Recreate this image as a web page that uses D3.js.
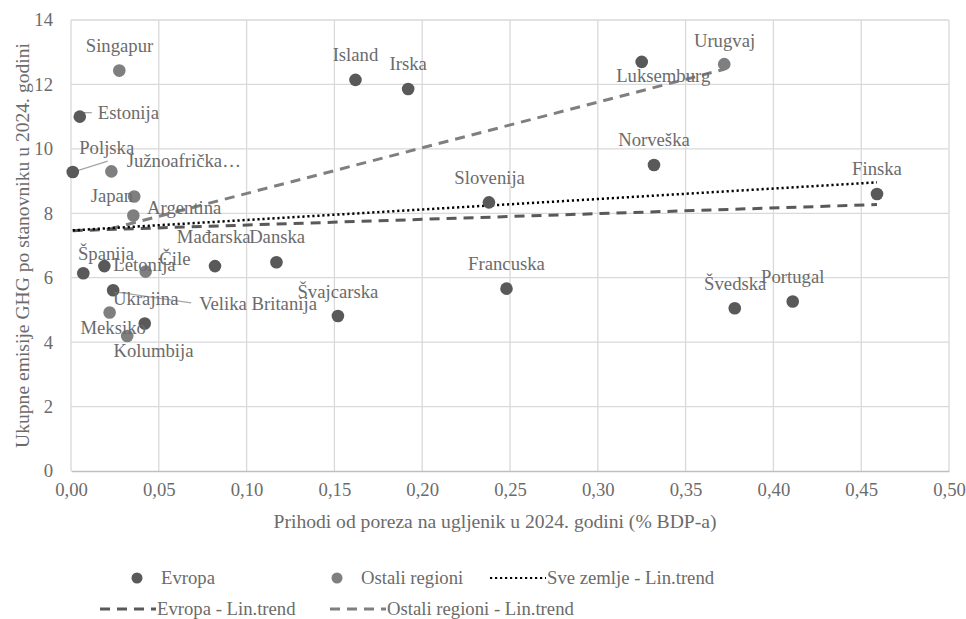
<!DOCTYPE html>
<html><head><meta charset="utf-8">
<script src="https://cdn.jsdelivr.net/npm/d3@7"></script>
<style>body{margin:0;background:#fff;}</style></head>
<body><svg id="c" width="966" height="619"></svg>
<script>
// ---- data ----
const europeNames = ["Estonija","Poljska","Island","Irska","Luksemburg","Norveška","Slovenija","Francuska","Švajcarska","Finska","Švedska","Portugal","Mađarska","Danska","Španija","Letonija","Velika Britanija","Ukrajina"];
const europeX = [0.005,0.001,0.162,0.192,0.325,0.332,0.238,0.248,0.152,0.459,0.378,0.411,0.082,0.117,0.007,0.019,0.024,0.042];
const europeY = [11.00,9.28,12.14,11.86,12.70,9.50,8.34,5.66,4.81,8.60,5.05,5.26,6.36,6.48,6.14,6.36,5.61,4.58];

const otherNames = ["Singapur","Južnoafrička…","Japan","Argentina","Urugvaj","Čile","Meksiko","Kolumbija"];
const otherX = [0.0275,0.023,0.036,0.0355,0.372,0.0425,0.022,0.032];
const otherY = [12.43,9.30,8.52,7.93,12.63,6.19,4.92,4.19];

// trend lines (endpoints)
const trendAll = [[0.001,7.47],[0.459,8.96]];
const trendEurope = [[0.001,7.46],[0.459,8.27]];
const trendOther = [[0.022,7.51],[0.372,12.47]];

const xTicks = [0,0.05,0.10,0.15,0.20,0.25,0.30,0.35,0.40,0.45,0.50];
const yTicks = [0,2,4,6,8,10,12,14];

const xTitle = "Prihodi od poreza na ugljenik u 2024. godini (% BDP-a)";
const yTitle = "Ukupne emisije GHG po stanovniku u 2024. godini";

// ---- label layout (pixel offsets from point) ----
const labelLayout = {
 "Estonija":{dx:18,dy:2.5,a:"start",lead:[[1,-4],[12,-4]]},
 "Poljska":{dx:34,dy:-18,a:"middle",lead:[[0,0],[35,-11]]},
 "Island":{dx:0,dy:-18.5,a:"middle"},
 "Irska":{dx:0,dy:-18.5,a:"middle"},
 "Luksemburg":{dx:21.5,dy:19.7,a:"middle"},
 "Norveška":{dx:0,dy:-18.5,a:"middle"},
 "Slovenija":{dx:0.7,dy:-18.5,a:"middle"},
 "Francuska":{dx:0,dy:-18.5,a:"middle"},
 "Švajcarska":{dx:0,dy:-18.5,a:"middle"},
 "Finska":{dx:0,dy:-18.5,a:"middle"},
 "Švedska":{dx:0.5,dy:-18.5,a:"middle"},
 "Portugal":{dx:0,dy:-19,a:"middle"},
 "Mađarska":{dx:-1.3,dy:-23,a:"middle"},
 "Danska":{dx:0.7,dy:-19.3,a:"middle"},
 "Španija":{dx:22.7,dy:-13.3,a:"middle"},
 "Letonija":{dx:9,dy:4.7,a:"start"},
 "Velika Britanija":{dx:86,dy:19.7,a:"start",lead:[[2,1.5],[78,12.5]]},
 "Ukrajina":{dx:1,dy:-18.3,a:"middle"},
 "Singapur":{dx:0.2,dy:-18.7,a:"middle"},
 "Južnoafrička…":{dx:15.3,dy:-4.3,a:"start"},
 "Japan":{dx:-22.3,dy:5.3,a:"middle"},
 "Argentina":{dx:13.7,dy:-1.7,a:"start"},
 "Urugvaj":{dx:0.3,dy:-17.6,a:"middle"},
 "Čile":{dx:29.3,dy:-6.7,a:"middle"},
 "Meksiko":{dx:3.5,dy:21.3,a:"middle"},
 "Kolumbija":{dx:26.3,dy:20.7,a:"middle"}
};

const FONT = '"Liberation Serif", serif';
const cEurope="#595959", cOther="#7f7f7f", cText="#6b6b6b", cGrid="#d9d9d9";
const fs = 18.7, fsT = 19.6;

const svg = d3.select("#c");
const x = d3.scaleLinear().domain([0,0.5]).range([71,949]);
const y = d3.scaleLinear().domain([0,14]).range([471,20]);

// grid
svg.append("g").selectAll("line").data(xTicks.slice(1)).join("line")
 .attr("x1",d=>x(d)).attr("x2",d=>x(d)).attr("y1",y(0)).attr("y2",y(14))
 .attr("stroke",cGrid).attr("stroke-width",1.3);
svg.append("g").selectAll("line").data(yTicks.slice(1)).join("line")
 .attr("x1",x(0)).attr("x2",x(0.5)).attr("y1",d=>y(d)).attr("y2",d=>y(d))
 .attr("stroke",cGrid).attr("stroke-width",1.3);
svg.append("line").attr("x1",x(0)).attr("x2",x(0)).attr("y1",y(0)).attr("y2",y(14)).attr("stroke",cGrid).attr("stroke-width",1.3);

// axes via d3
const fmt = d3.formatLocale({decimal:",",thousands:".",grouping:[3],currency:["","€"]}).format(".2f");
const xAxis = svg.append("g").attr("transform",`translate(0,${y(0)})`)
 .call(d3.axisBottom(x).tickValues(xTicks).tickFormat(fmt).tickSize(0).tickPadding(12));
xAxis.attr("font-family",null);
xAxis.select(".domain").attr("stroke","#bfbfbf").attr("stroke-width",1.3);
xAxis.selectAll("text").attr("font-size",fs).attr("fill",cText).style("font-family",FONT);
const yAxis = svg.append("g").attr("transform",`translate(${x(0)},0)`)
 .call(d3.axisLeft(y).tickValues(yTicks).tickFormat(d3.format("d")).tickSize(0).tickPadding(18));
yAxis.attr("font-family",null);
yAxis.select(".domain").remove();
yAxis.selectAll("text").attr("font-size",fs).attr("fill",cText).style("font-family",FONT);

// titles
svg.append("text").attr("x",495).attr("y",528).attr("text-anchor","middle").style("font-family",FONT)
 .attr("font-size",fsT).attr("fill",cText).text(xTitle);
svg.append("text").attr("transform",`translate(29,${(y(0)+y(14))/2}) rotate(-90)`).attr("text-anchor","middle").style("font-family",FONT)
 .attr("font-size",fsT).attr("fill",cText).text(yTitle);

// trend lines
const line = d3.line().x(d=>x(d[0])).y(d=>y(d[1]));
svg.append("path").attr("d",line(trendOther)).attr("fill","none").attr("stroke",cOther).attr("stroke-width",3).attr("stroke-dasharray","10,7");
svg.append("path").attr("d",line(trendEurope)).attr("fill","none").attr("stroke",cEurope).attr("stroke-width",3).attr("stroke-dasharray","10,7");
svg.append("path").attr("d",line(trendAll)).attr("fill","none").attr("stroke","#000").attr("stroke-width",2.5).attr("stroke-dasharray","2.2,2.8");

// points
const eu = europeNames.map((n,i)=>({n,x:europeX[i],y:europeY[i],c:cEurope}));
const ot = otherNames.map((n,i)=>({n,x:otherX[i],y:otherY[i],c:cOther}));
const all = eu.concat(ot);

all.forEach(d=>{
  const L = labelLayout[d.n];
  if(L && L.lead){
    svg.append("line").attr("x1",x(d.x)+L.lead[0][0]).attr("y1",y(d.y)+L.lead[0][1])
      .attr("x2",x(d.x)+L.lead[1][0]).attr("y2",y(d.y)+L.lead[1][1])
      .attr("stroke","#a6a6a6").attr("stroke-width",1.3);
  }
});

svg.append("g").selectAll("circle").data(all).join("circle")
 .attr("cx",d=>x(d.x)).attr("cy",d=>y(d.y)).attr("r",6.3).attr("fill",d=>d.c);

svg.append("g").selectAll("text").data(all).join("text")
 .attr("x",d=>x(d.x)+labelLayout[d.n].dx).attr("y",d=>y(d.y)+labelLayout[d.n].dy)
 .attr("text-anchor",d=>labelLayout[d.n].a).style("font-family",FONT)
 .attr("font-size",fs).attr("fill",cText).text(d=>d.n);

// legend
const leg = svg.append("g");
const legendItems = [
 {t:"Evropa",type:"dot",c:cEurope,x:137,y:578},
 {t:"Ostali regioni",type:"dot",c:cOther,x:337,y:578},
 {t:"Sve zemlje - Lin.trend",type:"dot-line",c:"#000",x:490,y:578},
 {t:"Evropa - Lin.trend",type:"dash",c:cEurope,x:100,y:609},
 {t:"Ostali regioni - Lin.trend",type:"dash",c:cOther,x:330,y:609}
];
legendItems.forEach(it=>{
  if(it.type==="dot"){
    leg.append("circle").attr("cx",it.x).attr("cy",it.y).attr("r",5.5).attr("fill",it.c);
    leg.append("text").attr("x",it.x+24).attr("y",it.y+6).style("font-family",FONT).attr("font-size",fs).attr("fill",cText).text(it.t);
  } else {
    leg.append("line").attr("x1",it.x).attr("x2",it.x+56).attr("y1",it.y).attr("y2",it.y)
      .attr("stroke",it.c).attr("stroke-width",it.type==="dash"?3:2.2)
      .attr("stroke-dasharray",it.type==="dash"?"10,7":"2.2,2.8");
    leg.append("text").attr("x",it.x+57).attr("y",it.y+6).style("font-family",FONT).attr("font-size",fs).attr("fill",cText).text(it.t);
  }
});
</script></body></html>
